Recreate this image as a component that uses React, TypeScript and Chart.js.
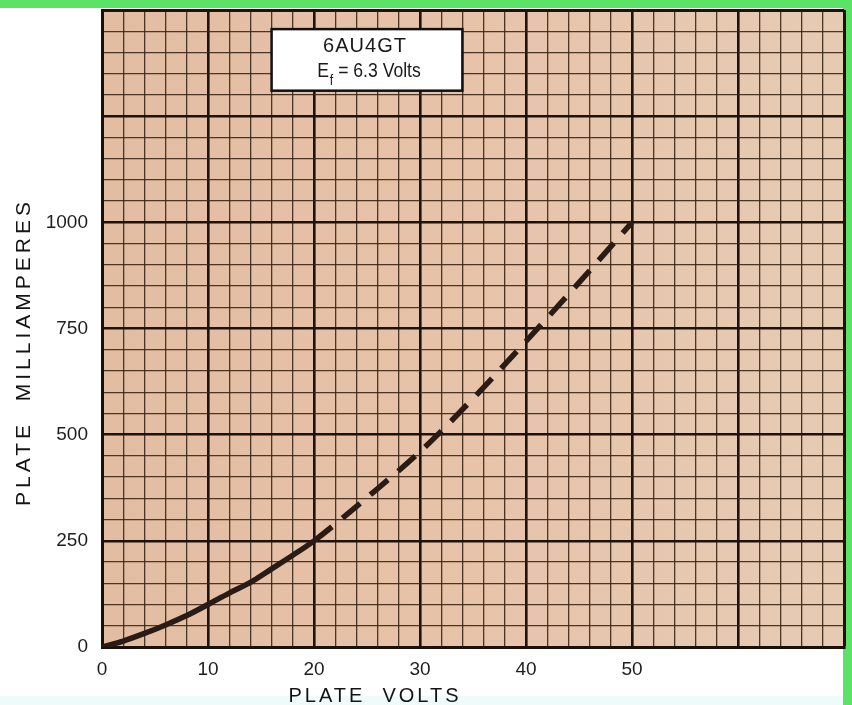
import React, { useEffect, useRef } from 'react';
import { Chart, registerables } from 'chart.js';

Chart.register(...registerables);

// ---- data ----
const plateVolts = [0, 2, 4, 6, 8, 10, 12, 14, 16, 18, 20, 25, 30, 35, 40, 45, 50];
const plateMilliamps = [0, 14, 32, 52, 74, 100, 127, 152, 184, 216, 250, 352, 460, 585, 720, 858, 1000];
const dashedFromVolts = 20;
const xTickLabels = [0, 10, 20, 30, 40, 50];
const yTickLabels = [0, 250, 500, 750, 1000];
const xRange = [0, 70];
const yRange = [0, 1500];
const xMinorStep = 2;
const xMajorStep = 10;
const yMinorStep = 50;
const yMajorStep = 250;
const tubeName = '6AU4GT';
const filamentMain = 'E';
const filamentSub = 'f';
const filamentRest = ' = 6.3 Volts';
const xTitle = 'PLATE  VOLTS';
const yTitle = 'PLATE  MILLIAMPERES';
const noteBoxVolts = [16, 34];
const noteBoxMilliamps = [1310, 1455];

const FONT = '"Liberation Sans", Arial, sans-serif';

const pagePlugin = {
  id: 'pageBg',
  beforeDraw(chart: any) {
    const { ctx, chartArea: a, width, height } = chart;
    ctx.save();
    ctx.fillStyle = '#ffffff';
    ctx.fillRect(0, 0, width, height);
    ctx.fillStyle = '#effbfb';
    ctx.fillRect(0, 696, width, height - 696);
    ctx.fillStyle = '#5be267';
    ctx.fillRect(0, 0, width, 8);
    ctx.fillRect(843, 0, width - 843, height);
    const g = ctx.createLinearGradient(a.left, 0, a.right, 0);
    g.addColorStop(0, '#e3bda2');
    g.addColorStop(0.5, '#e7c3aa');
    g.addColorStop(1, '#e6cbb3');
    ctx.fillStyle = g;
    ctx.fillRect(a.left, a.top, a.right - a.left, a.bottom - a.top);
    ctx.restore();
  },
};

const notePlugin = {
  id: 'noteBox',
  afterDatasetsDraw(chart: any) {
    const { ctx } = chart;
    const xs = chart.scales.x;
    const ys = chart.scales.y;
    const l = xs.getPixelForValue(noteBoxVolts[0]);
    const r = xs.getPixelForValue(noteBoxVolts[1]);
    const t = ys.getPixelForValue(noteBoxMilliamps[1]);
    const b = ys.getPixelForValue(noteBoxMilliamps[0]);
    ctx.save();
    ctx.fillStyle = '#ffffff';
    ctx.fillRect(l, t, r - l, b - t);
    ctx.strokeStyle = '#111111';
    ctx.lineWidth = 2.5;
    ctx.strokeRect(l, t, r - l, b - t);
    const cx = (l + r) / 2 - 2;
    ctx.fillStyle = '#1a1a1a';
    ctx.textBaseline = 'alphabetic';
    ctx.font = `20px ${FONT}`;
    (ctx as any).letterSpacing = '1px';
    ctx.textAlign = 'center';
    ctx.fillText(tubeName, cx, t + 23);
    (ctx as any).letterSpacing = '0px';
    const sx = 0.88;
    ctx.font = `20px ${FONT}`;
    const wMain = ctx.measureText(filamentMain).width;
    const wRest = ctx.measureText(filamentRest).width;
    ctx.font = `14px ${FONT}`;
    const wSub = ctx.measureText(filamentSub).width;
    const total = (wMain + wSub + 1 + wRest) * sx;
    ctx.translate(cx + 4 - total / 2, t + 48);
    ctx.scale(sx, 1);
    ctx.textAlign = 'left';
    ctx.font = `20px ${FONT}`;
    ctx.fillText(filamentMain, 0, 0);
    ctx.font = `14px ${FONT}`;
    ctx.fillText(filamentSub, wMain + 1, 8);
    ctx.font = `20px ${FONT}`;
    ctx.fillText(filamentRest, wMain + wSub + 1, 0);
    ctx.restore();
  },
};

const titlePlugin = {
  id: 'axisTitles',
  afterDraw(chart: any) {
    const { ctx } = chart;
    ctx.save();
    ctx.fillStyle = '#141414';
    ctx.textAlign = 'center';
    ctx.textBaseline = 'alphabetic';
    ctx.font = `20px ${FONT}`;
    (ctx as any).letterSpacing = '3px';
    ctx.fillText(xTitle, 375, 702);
    ctx.translate(30, 352);
    ctx.rotate(-Math.PI / 2);
    ctx.font = `21px ${FONT}`;
    (ctx as any).letterSpacing = '4px';
    ctx.fillText(yTitle, 0, 0);
    ctx.restore();
  },
};

export default function App() {
  const ref = useRef<HTMLCanvasElement>(null);
  useEffect(() => {
    document.body.style.margin = '0';
    document.body.style.overflow = 'hidden';
    const canvas = ref.current!;
    const points = plateVolts.map((v, i) => ({ x: v, y: plateMilliamps[i] }));
    const chart = new Chart(canvas, {
      type: 'line',
      data: {
        datasets: [
          {
            data: points,
            borderColor: '#2a1b14',
            borderWidth: 5.5,
            pointRadius: 0,
            fill: false,
            cubicInterpolationMode: 'monotone',
            borderCapStyle: 'butt',
            segment: {
              borderDash: (c: any) => (c.p0.parsed.x >= dashedFromVolts ? [23, 13.4] : undefined),
            },
          } as any,
        ],
      },
      options: {
        responsive: false,
        animation: false,
        devicePixelRatio: 1,
        layout: { padding: { top: 10, right: 8, left: 0, bottom: 0 } },
        plugins: { legend: { display: false }, tooltip: { enabled: false } },
        scales: {
          x: {
            type: 'linear',
            min: xRange[0],
            max: xRange[1],
            afterFit: (s: any) => {
              s.height = 58;
              s.paddingLeft = 0;
              s.paddingRight = 0;
            },
            ticks: {
              stepSize: xMinorStep,
              autoSkip: false,
              maxRotation: 0,
              padding: 11,
              color: '#1e1e1e',
              font: { family: FONT, size: 19 },
              callback: (v: any) => (xTickLabels.includes(Number(v)) ? String(v) : ''),
            },
            grid: {
              drawTicks: false,
              color: (c: any) => {
                const v = c.tick?.value ?? 0;
                return v % xMajorStep === 0 ? '#1d120c' : 'rgba(58,38,22,0.9)';
              },
              lineWidth: (c: any) => {
                const v = c.tick?.value ?? 0;
                if (v === xRange[1]) return 3;
                return v % xMajorStep === 0 ? 2.6 : 1.3;
              },
            },
            border: { display: true, color: '#1b110b', width: 3 },
          },
          y: {
            type: 'linear',
            min: yRange[0],
            max: yRange[1],
            afterFit: (s: any) => {
              s.width = 102;
              s.paddingTop = 0;
              s.paddingBottom = 0;
            },
            ticks: {
              stepSize: yMinorStep,
              autoSkip: false,
              padding: 14,
              color: '#1e1e1e',
              font: { family: FONT, size: 19 },
              callback: (v: any) => (yTickLabels.includes(Number(v)) ? String(v) : ''),
            },
            grid: {
              drawTicks: false,
              color: (c: any) => {
                const v = c.tick?.value ?? 0;
                return v % yMajorStep === 0 ? '#1d120c' : 'rgba(58,38,22,0.9)';
              },
              lineWidth: (c: any) => {
                const v = c.tick?.value ?? 0;
                if (v === yRange[1]) return 3;
                return v % yMajorStep === 0 ? 2.6 : 1.3;
              },
            },
            border: { display: true, color: '#1b110b', width: 3 },
          },
        },
      } as any,
      plugins: [pagePlugin, notePlugin, titlePlugin],
    });
    return () => chart.destroy();
  }, []);
  return (
    <div style={{ width: 852, height: 705 }}>
      <canvas ref={ref} width={852} height={705} style={{ display: 'block' }} />
    </div>
  );
}
